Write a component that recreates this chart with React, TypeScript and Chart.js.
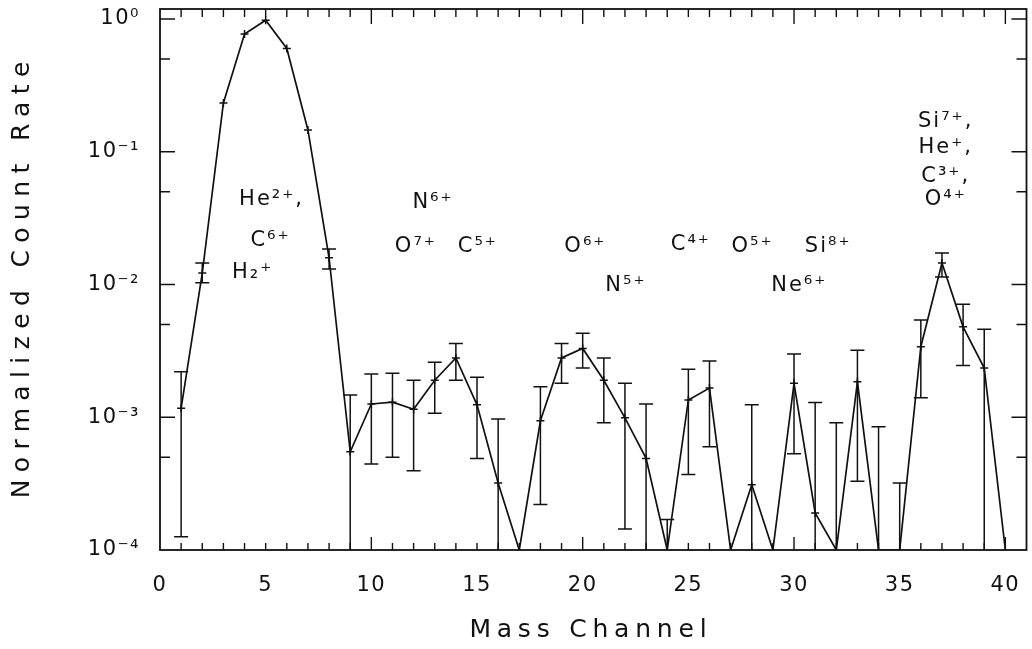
import React, { useEffect, useRef } from 'react';
import { Chart, registerables } from 'chart.js';

Chart.register(...registerables);

// ---- data ----
const channels = [
  1, 2, 3, 4, 5, 6, 7, 8, 9, 10,
  11, 12, 13, 14, 15, 16, 17, 18, 19, 20,
  21, 22, 23, 24, 25, 26, 27, 28, 29, 30,
  31, 32, 33, 34, 35, 36, 37, 38, 39, 40,
];
const rates = [
  1.17e-3, 0.0122, 0.233, 0.77, 0.98, 0.6, 0.146, 0.0159, 5.5e-4, 1.26e-3,
  1.3e-3, 1.15e-3, 1.9e-3, 2.8e-3, 1.24e-3, 3.2e-4, 1e-4, 9.4e-4, 2.8e-3, 3.3e-3,
  1.9e-3, 9.9e-4, 4.9e-4, 1e-4, 1.35e-3, 1.66e-3, 1e-4, 3.1e-4, 1e-4, 1.8e-3,
  1.9e-4, 1e-4, 1.85e-3, 1e-4, 1e-4, 3.4e-3, 0.0145, 4.8e-3, 2.35e-3, 1e-4,
];
const errHigh = [
  2.2e-3, 0.0145, null, null, null, null, null, 0.0185, 1.47e-3, 2.12e-3,
  2.15e-3, 1.9e-3, 2.6e-3, 3.6e-3, 2.0e-3, 9.7e-4, null, 1.7e-3, 3.6e-3, 4.3e-3,
  2.8e-3, 1.8e-3, 1.26e-3, 1.7e-4, 2.3e-3, 2.65e-3, null, 1.24e-3, null, 3.0e-3,
  1.29e-3, 9.1e-4, 3.2e-3, 8.5e-4, 3.2e-4, 5.4e-3, 0.0173, 7.1e-3, 4.6e-3, null,
];
const errLow = [
  1.26e-4, 0.0103, null, null, null, null, null, 0.0131, 5e-5, 4.45e-4,
  5.0e-4, 3.96e-4, 1.07e-3, 1.9e-3, 4.9e-4, 5e-5, null, 2.2e-4, 1.8e-3, 2.35e-3,
  9.1e-4, 1.44e-4, 5e-5, 1e-4, 3.7e-4, 6.0e-4, null, 5e-5, null, 5.3e-4,
  5e-5, 5e-5, 3.3e-4, 5e-5, 5e-5, 1.4e-3, 0.0114, 2.45e-3, 5e-5, null,
];

const xMin = 0;
const xMax = 41;
const xLabelValues = [0, 5, 10, 15, 20, 25, 30, 35, 40];
const yMin = 1e-4;
const yMax = 1.19;
const yTickValues = [1e-4, 1e-3, 1e-2, 1e-1, 1];
const yTickLabels = ['10⁻⁴', '10⁻³', '10⁻²', '10⁻¹', '10⁰'];
const yMinorTicks = [5e-4, 5e-3, 5e-2, 5e-1];

const ionLabels = [
  'He²⁺,', 'C⁶⁺', 'H₂⁺', 'N⁶⁺', 'O⁷⁺', 'C⁵⁺', 'O⁶⁺', 'N⁵⁺',
  'C⁴⁺', 'O⁵⁺', 'Si⁸⁺', 'Ne⁶⁺', 'Si⁷⁺,', 'He⁺,', 'C³⁺,', 'O⁴⁺',
];
const ionChannels = [
  5.23, 5.18, 4.34, 12.87, 12.06, 14.99, 20.08, 22.0,
  25.07, 27.99, 31.57, 30.2, 37.13, 37.13, 37.13, 37.13,
];
const ionRates = [
  0.0433, 0.0216, 0.0124, 0.0411, 0.0192, 0.0192, 0.0192, 0.0099,
  0.0199, 0.0192, 0.0192, 0.0099, 0.1675, 0.1067, 0.0646, 0.0433,
];

const xTitle = 'Mass Channel';
const yTitle = 'Normalized Count Rate';

const FONT = '"DejaVu Sans", sans-serif';
const INK = '#111';

function fitSpacing(ctx: CanvasRenderingContext2D, text: string, target: number) {
  (ctx as any).letterSpacing = '0px';
  const w = ctx.measureText(text).width;
  const n = text.length;
  return Math.max(0, (target - w) / n);
}

function zeroPadding(scale: any) {
  scale.paddingTop = 0;
  scale.paddingBottom = 0;
  scale.paddingLeft = 0;
  scale.paddingRight = 0;
}

const decorPlugin = {
  id: 'decor',
  beforeDraw(chart: any) {
    (chart.ctx as any).letterSpacing = '1.5px';
  },
  afterDraw(chart: any) {
    const { ctx, chartArea, scales } = chart;
    const { left, right, top, bottom } = chartArea;
    const x = scales.x;
    const y = scales.y;
    ctx.save();
    (ctx as any).letterSpacing = '0px';
    ctx.strokeStyle = INK;
    ctx.lineWidth = 1.8;
    ctx.strokeRect(left, top, right - left, bottom - top);

    ctx.lineWidth = 1.4;
    ctx.beginPath();
    for (let i = 1; i <= 40; i++) {
      const px = x.getPixelForValue(i);
      const major = i % 10 === 0;
      ctx.moveTo(px, bottom);
      ctx.lineTo(px, bottom - (major ? 13 : 7));
      ctx.moveTo(px, top);
      ctx.lineTo(px, top + (major ? 15 : 8));
    }
    yTickValues.forEach((v) => {
      const py = y.getPixelForValue(v);
      if (py <= top + 1 || py >= bottom - 1) return;
      ctx.moveTo(left, py);
      ctx.lineTo(left + 15, py);
      ctx.moveTo(right, py);
      ctx.lineTo(right - 15, py);
    });
    yMinorTicks.forEach((v) => {
      const py = y.getPixelForValue(v);
      ctx.moveTo(left, py);
      ctx.lineTo(left + 10, py);
      ctx.moveTo(right, py);
      ctx.lineTo(right - 10, py);
    });
    ctx.stroke();

    // ion labels
    ctx.fillStyle = INK;
    ctx.font = `21px ${FONT}`;
    ctx.textAlign = 'center';
    ctx.textBaseline = 'middle';
    (ctx as any).letterSpacing = '2px';
    ionLabels.forEach((t, i) => {
      ctx.fillText(t, x.getPixelForValue(ionChannels[i]) + 1, y.getPixelForValue(ionRates[i]));
    });

    // axis titles
    ctx.font = `25px ${FONT}`;
    let sp = fitSpacing(ctx, xTitle, 243);
    (ctx as any).letterSpacing = `${sp}px`;
    ctx.fillText(xTitle, 588 + sp / 2, 630);

    ctx.save();
    ctx.translate(22, 280);
    ctx.rotate(-Math.PI / 2);
    sp = fitSpacing(ctx, yTitle, 444);
    (ctx as any).letterSpacing = `${sp}px`;
    ctx.fillText(yTitle, sp / 2, 0);
    ctx.restore();
    ctx.restore();
  },
  afterDatasetsDraw(chart: any) {
    const { ctx, chartArea, scales } = chart;
    const { left, right, top, bottom } = chartArea;
    const x = scales.x;
    const y = scales.y;
    ctx.save();
    ctx.beginPath();
    ctx.rect(left, top, right - left, bottom - top);
    ctx.clip();
    ctx.strokeStyle = INK;
    ctx.lineWidth = 1.5;
    const cap = 7;
    ctx.beginPath();
    channels.forEach((c, i) => {
      const hi = errHigh[i];
      const lo = errLow[i];
      if (hi == null) return;
      const px = x.getPixelForValue(c);
      const pyH = y.getPixelForValue(hi);
      const pyL = lo != null ? y.getPixelForValue(Math.max(lo, yMin * 0.5)) : y.getPixelForValue(rates[i]);
      ctx.moveTo(px, pyH);
      ctx.lineTo(px, pyL);
      ctx.moveTo(px - cap, pyH);
      ctx.lineTo(px + cap, pyH);
      if (lo != null && lo > yMin) {
        ctx.moveTo(px - cap, pyL);
        ctx.lineTo(px + cap, pyL);
      }
    });
    ctx.stroke();
    ctx.restore();
  },
};

export default function App() {
  const ref = useRef<HTMLCanvasElement | null>(null);
  useEffect(() => {
    if (!ref.current) return;
    const chart = new Chart(ref.current, {
      type: 'line',
      data: {
        datasets: [
          {
            data: channels.map((c, i) => ({ x: c, y: rates[i] })),
            borderColor: INK,
            backgroundColor: INK,
            borderWidth: 1.7,
            pointStyle: 'cross',
            pointRadius: rates.map((v) => (v > yMin ? 4 : 0)),
            pointBorderWidth: 1.5,
            pointBorderColor: INK,
            tension: 0,
            fill: false,
          },
        ],
      },
      options: {
        animation: false,
        responsive: false,
        events: [],
        layout: { padding: { top: 9, right: 2, left: 0, bottom: 0 } },
        plugins: { legend: { display: false }, tooltip: { enabled: false } },
        scales: {
          x: {
            type: 'linear',
            position: 'bottom',
            min: xMin,
            max: xMax,
            afterBuildTicks: (scale: any) => {
              scale.ticks = xLabelValues.map((v) => ({ value: v }));
            },
            ticks: {
              autoSkip: false,
              maxRotation: 0,
              padding: 23,
              color: INK,
              font: { family: FONT, size: 21 },
              callback: (v: any) => String(v),
            },
            grid: { display: false, drawTicks: false },
            border: { display: false },
            afterFit: (scale: any) => {
              scale.height = 99;
              zeroPadding(scale);
            },
          },
          y: {
            type: 'logarithmic',
            position: 'left',
            min: yMin,
            max: yMax,
            afterBuildTicks: (scale: any) => {
              scale.ticks = yTickValues.map((v) => ({ value: v }));
            },
            ticks: {
              autoSkip: false,
              padding: 20,
              color: INK,
              font: { family: FONT, size: 21 },
              callback: (v: any) => {
                const idx = yTickValues.findIndex((t) => Math.abs(Math.log10(t) - Math.log10(v)) < 1e-6);
                return idx >= 0 ? yTickLabels[idx] : '';
              },
            },
            grid: { display: false, drawTicks: false },
            border: { display: false },
            afterFit: (scale: any) => {
              scale.width = 160;
              zeroPadding(scale);
            },
          },
        },
      },
      plugins: [decorPlugin],
    } as any);
    return () => chart.destroy();
  }, []);
  return (
    <div style={{ position: 'absolute', left: 0, top: 0, width: 1032, height: 649, background: '#fff' }}>
      <canvas ref={ref} width={1032} height={649} style={{ display: 'block' }} />
    </div>
  );
}
